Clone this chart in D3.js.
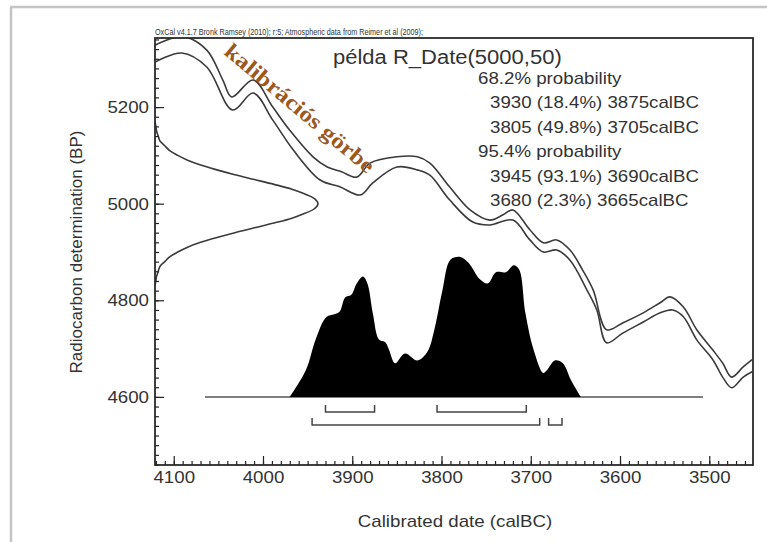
<!DOCTYPE html>
<html>
<head>
<meta charset="utf-8">
<script src="https://cdnjs.cloudflare.com/ajax/libs/d3/7.8.5/d3.min.js"></script>
<style>
body { margin: 0; background: #fff; }
text { font-family: "Liberation Sans", Arial, Helvetica, sans-serif; fill: #333; }
</style>
</head>
<body>
<script>
var width = 767;
var height = 542;

// calibration curve, upper and lower 1-sigma envelope (calBC, BP)
var upperYears = [4121,4090,4063,4045,4035,4011,3989,3970,3944,3928,3912,3895,3880,3850,3827,3813,3791,3768,3746,3731,3720,3701,3686,3671,3656,3642,3630,3615,3597,3574,3555,3544,3529,3514,3496,3485,3475,3462,3452];
var upperBP    = [5328,5346,5318,5256,5221,5256,5200,5152,5097,5076,5066,5055,5084,5097,5097,5084,5035,4987,4966,4977,4987,4946,4919,4925,4904,4863,4821,4739,4753,4774,4795,4807,4786,4739,4697,4670,4641,4662,4677];
var lowerYears = [4121,4091,4063,4034,4011,3989,3966,3936,3914,3891,3877,3850,3827,3813,3791,3765,3746,3720,3701,3686,3671,3656,3637,3626,3615,3597,3574,3555,3541,3529,3514,3496,3485,3475,3462,3452];
var lowerBP    = [5293,5312,5283,5194,5229,5173,5111,5049,5035,5018,5043,5076,5070,5059,5008,4962,4956,4966,4925,4900,4904,4883,4821,4780,4712,4732,4755,4774,4780,4766,4718,4677,4641,4619,4641,4652];

// calibrated probability distribution (relative)
var probYears  = [3970,3952,3941,3929,3920,3914,3908,3901,3895,3888,3883,3877,3870,3863,3859,3852,3841,3827,3816,3808,3799,3790,3779,3770,3757,3748,3739,3728,3719,3713,3706,3697,3686,3682,3673,3664,3655,3644];
var probValues = [0,0.19,0.41,0.57,0.59,0.61,0.71,0.73,0.81,0.86,0.81,0.60,0.41,0.39,0.34,0.24,0.31,0.26,0.32,0.48,0.76,0.98,1.0,0.96,0.84,0.81,0.89,0.89,0.94,0.91,0.60,0.34,0.17,0.19,0.26,0.24,0.12,0];
var probSpan = [4065, 3507];

// radiocarbon date R_Date(5000,50)
var dateBP      = [5170,5160,5150,5140,5130,5120,5110,5100,5090,5080,5070,5060,5050,5040,5030,5020,5010,5000,4990,4980,4970,4960,4950,4940,4930,4920,4910,4900,4890,4880,4870,4860,4850,4840,4830];
var dateDensity = [0,0.005,0.01,0.02,0.03,0.06,0.09,0.14,0.20,0.28,0.38,0.49,0.61,0.73,0.84,0.92,0.98,1,0.98,0.92,0.84,0.73,0.61,0.49,0.38,0.28,0.20,0.14,0.09,0.06,0.03,0.02,0.01,0.005,0];

var ranges68 = [[3930,3875],[3805,3705]];
var ranges95 = [[3945,3690],[3680,3665]];

var xTicks = [4100,4000,3900,3800,3700,3600,3500];
var yTicks = [4600,4800,5000,5200];

var headerText = "OxCal v4.1.7 Bronk Ramsey (2010); r:5; Atmospheric data from Reimer et al (2009);";
var titleText = "példa R_Date(5000,50)";
var legendLines = ["68.2% probability", "3930 (18.4%) 3875calBC", "3805 (49.8%) 3705calBC",
                   "95.4% probability", "3945 (93.1%) 3690calBC", "3680 (2.3%) 3665calBC"];
var legendIndent = [0,1,1,0,1,1];

var svg = d3.select("body").append("svg")
  .attr("width", width)
  .attr("height", height);

function stretch(sel, k) {
  sel.each(function() {
    var len = this.getComputedTextLength();
    d3.select(this).attr("textLength", len * k).attr("lengthAdjust", "spacingAndGlyphs");
  });
}

// outer grey frame
svg.append("path")
  .attr("d", "M10,7H767M11,7V542")
  .attr("fill", "none")
  .attr("stroke", "#c4c4c4")
  .attr("stroke-width", 2.5);

var x = d3.scaleLinear().domain([4121, 3451]).range([155, 753]);
var y = d3.scaleLinear().domain([4459, 5343]).range([465, 38]);

svg.append("clipPath").attr("id", "clip")
  .append("rect")
  .attr("x", x.range()[0]).attr("y", y.range()[1])
  .attr("width", x.range()[1] - x.range()[0])
  .attr("height", y.range()[0] - y.range()[1]);

var plot = svg.append("g").attr("clip-path", "url(#clip)");

// calibration curve
var line = d3.line()
  .x(function(d) { return x(d[0]); })
  .y(function(d) { return y(d[1]); })
  .curve(d3.curveCatmullRom);

plot.append("path")
  .datum(d3.zip(upperYears, upperBP))
  .attr("d", line)
  .attr("fill", "none").attr("stroke", "#3a3a3a").attr("stroke-width", 1.6);
plot.append("path")
  .datum(d3.zip(lowerYears, lowerBP))
  .attr("d", line)
  .attr("fill", "none").attr("stroke", "#3a3a3a").attr("stroke-width", 1.6);

// radiocarbon date on the y axis
var dx = d3.scaleLinear().domain([0, 1]).range([x.range()[0], 318]);
plot.append("path")
  .datum(d3.zip(dateBP, dateDensity))
  .attr("d", d3.line()
    .x(function(d) { return dx(d[1]); })
    .y(function(d) { return y(d[0]); })
    .curve(d3.curveCatmullRom))
  .attr("fill", "none").attr("stroke", "#3a3a3a").attr("stroke-width", 1.6);

// calibrated distribution
var base = y(4600);
var p = d3.scaleLinear().domain([0, 1]).range([base, base - 140]);
plot.append("line")
  .attr("x1", x(probSpan[0])).attr("x2", x(probSpan[1]))
  .attr("y1", base).attr("y2", base)
  .attr("stroke", "#555").attr("stroke-width", 1.5);
plot.append("path")
  .datum(d3.zip(probYears, probValues))
  .attr("d", d3.area()
    .x(function(d) { return x(d[0]); })
    .y0(base)
    .y1(function(d) { return p(d[1]); })
    .curve(d3.curveCatmullRom))
  .attr("fill", "#000");

// range brackets
function brackets(data, row) {
  plot.selectAll(null)
    .data(data)
    .enter()
    .append("path")
    .attr("d", function(d) {
      return "M" + x(d[0]) + "," + (row - 7) + "V" + row + "H" + x(d[1]) + "V" + (row - 7);
    })
    .attr("fill", "none").attr("stroke", "#444").attr("stroke-width", 1.5);
}
brackets(ranges68, base + 15);
brackets(ranges95, base + 28);

// axes
function clean(g) {
  g.select(".domain").remove();
  g.selectAll(".tick line").attr("stroke", "#222").attr("stroke-width", 1.2);
  g.selectAll("text").attr("font-size", 17).attr("fill", "#333");
}

svg.append("g")
  .attr("transform", "translate(0," + y.range()[0] + ")")
  .call(d3.axisBottom(x).tickValues(d3.range(4120, 3450, -10)).tickSize(-4).tickFormat(""))
  .call(clean);
var xa = svg.append("g")
  .attr("transform", "translate(0," + y.range()[0] + ")")
  .call(d3.axisBottom(x).tickValues(xTicks).tickSize(-9).tickPadding(6).tickFormat(d3.format("d")))
  .call(clean);
stretch(xa.selectAll("text"), 1.1);

svg.append("g")
  .attr("transform", "translate(" + x.range()[0] + ",0)")
  .call(d3.axisLeft(y).tickValues(d3.range(4460, 5343, 20)).tickSize(-4).tickFormat(""))
  .call(clean);
var ya = svg.append("g")
  .attr("transform", "translate(" + x.range()[0] + ",0)")
  .call(d3.axisLeft(y).tickValues(yTicks).tickSize(-9).tickPadding(6).tickFormat(d3.format("d")))
  .call(clean);
stretch(ya.selectAll("text"), 1.1);

// plot frame
svg.append("rect")
  .attr("x", x.range()[0]).attr("y", y.range()[1])
  .attr("width", x.range()[1] - x.range()[0])
  .attr("height", y.range()[0] - y.range()[1])
  .attr("fill", "none").attr("stroke", "#2a2a2a").attr("stroke-width", 1.8);

// texts
svg.append("text")
  .attr("x", 155).attr("y", 35)
  .attr("font-size", 9).attr("fill", "#555")
  .attr("textLength", 268).attr("lengthAdjust", "spacingAndGlyphs")
  .text(headerText);

var title = svg.append("text")
  .attr("x", 333).attr("y", 64)
  .attr("font-size", 20).attr("fill", "#222")
  .text(titleText);
stretch(title, 1.1);

var leg = svg.selectAll(".leg")
  .data(legendLines)
  .enter()
  .append("text")
  .attr("class", "leg")
  .attr("x", function(d, i) { return legendIndent[i] ? 490 : 478; })
  .attr("y", function(d, i) { return 84 + i * 24.4; })
  .attr("font-size", 17).attr("fill", "#222")
  .text(function(d) { return d; });
stretch(leg, 1.1);

svg.append("text")
  .attr("transform", "translate(300,108) rotate(40)")
  .attr("text-anchor", "middle")
  .attr("dy", "0.35em")
  .attr("font-family", "'Liberation Serif', 'Times New Roman', serif")
  .attr("font-weight", "bold")
  .attr("font-size", 22)
  .attr("textLength", 188).attr("lengthAdjust", "spacingAndGlyphs")
  .style("fill", "#9b5a1c")
  .style("font-family", "'Liberation Serif', 'Times New Roman', serif")
  .text("kalibrációs görbe");

var xt = svg.append("text")
  .attr("x", 455).attr("y", 527)
  .attr("text-anchor", "middle")
  .attr("font-size", 17)
  .text("Calibrated date (calBC)");
stretch(xt, 1.1);

svg.append("text")
  .attr("transform", "translate(82,252) rotate(-90)")
  .attr("text-anchor", "middle")
  .attr("font-size", 17)
  .text("Radiocarbon determination (BP)");
</script>
</body>
</html>
